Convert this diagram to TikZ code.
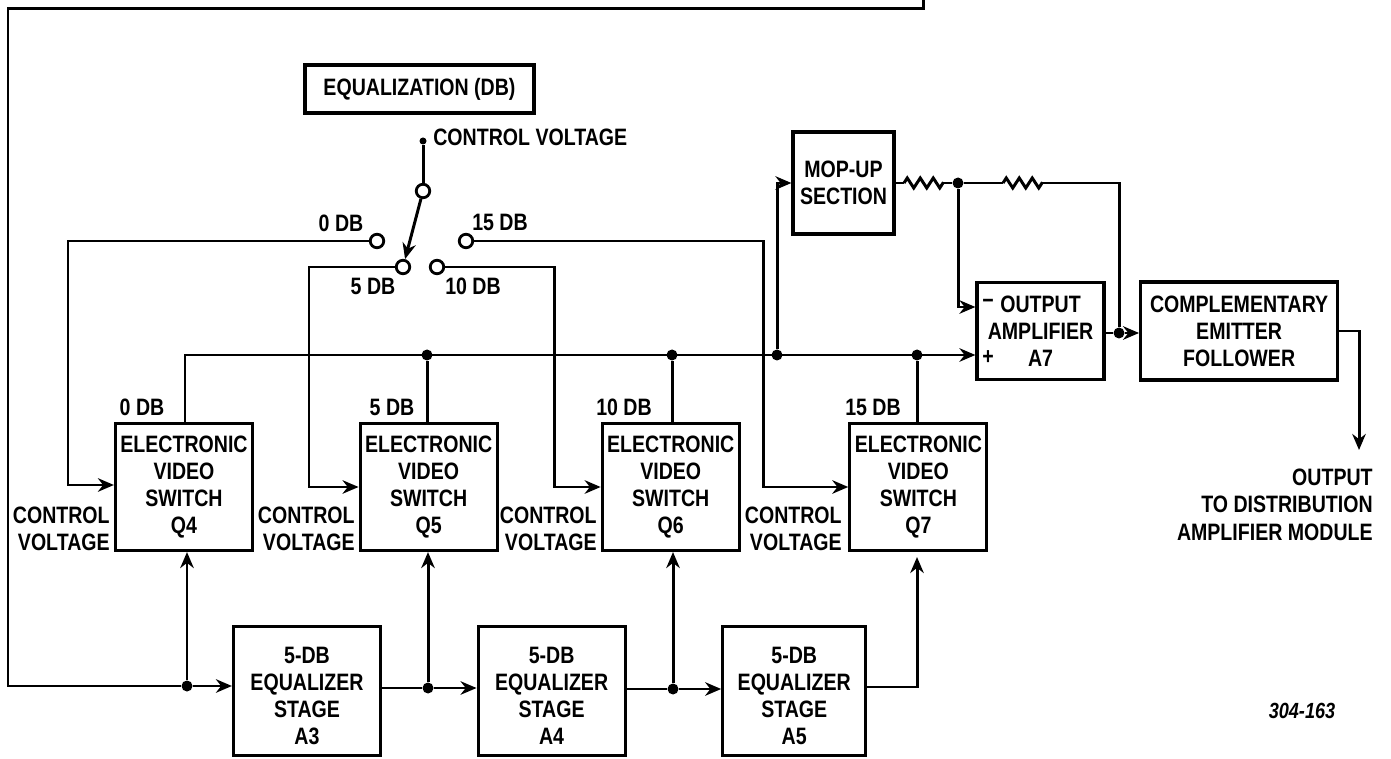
\documentclass[tikz,border=0pt]{standalone}
\usepackage{fontspec}
\setmainfont[FakeStretch=0.825]{Liberation Sans}
\usetikzlibrary{arrows.meta, positioning, calc, decorations.pathmorphing}
\newcommand{\eqtop}{\rule{0pt}{15pt}}
\tikzset{
    eqblock/.style={rectangle, draw=black, fill=white, line width=1.8pt, minimum width=#1, align=center, inner sep=0pt, font=\fontsize{13.5}{15.4}\selectfont\bfseries},
    eqwire/.style={draw=black, line width=1.7pt, line join=miter},
    eqarrow/.style={eqwire, -{Stealth[length=3.2mm, width=2.7mm]}},
    eqlabel/.style={font=\fontsize{13.5}{15.4}\selectfont\bfseries, align=center, inner sep=0pt},
    eqrlabel/.style={font=\fontsize{13.5}{15.4}\selectfont\bfseries, align=right, inner sep=0pt},
    eqdot/.style={circle, fill=black, inner sep=0pt, minimum size=0.22cm},
    eqcontact/.style={circle, draw=black, fill=white, line width=1.6pt, inner sep=0pt, minimum size=0.27cm},
    eqresistor/.style={eqwire, decorate, decoration={zigzag, segment length=0.26cm, amplitude=0.1cm}}
}
\begin{document}
\begin{tikzpicture}[x=0.02cm, y=-0.02cm]
\useasboundingbox (0,0) rectangle (1391,759);

% switches and equalizer stages
\node[eqblock=2.74cm, minimum height=2.54cm] (q4) at (184,487) {ELECTRONIC\\VIDEO\\SWITCH\\Q4};
\node[eqblock=2.74cm, minimum height=2.54cm, right=2.09cm of q4] (q5) {ELECTRONIC\\VIDEO\\SWITCH\\Q5};
\node[eqblock=2.74cm, minimum height=2.54cm, right=2.04cm of q5] (q6) {ELECTRONIC\\VIDEO\\SWITCH\\Q6};
\node[eqblock=2.74cm, minimum height=2.54cm, right=2.15cm of q6] (q7) {ELECTRONIC\\VIDEO\\SWITCH\\Q7};

\node[eqblock=2.94cm, minimum height=2.58cm] (a3) at (307,691) {\eqtop 5-DB\\EQUALIZER\\STAGE\\A3};
\node[eqblock=2.94cm, minimum height=2.58cm, right=1.89cm of a3] (a4) {\eqtop 5-DB\\EQUALIZER\\STAGE\\A4};
\node[eqblock=2.86cm, minimum height=2.58cm, right=1.89cm of a4] (a5) {\eqtop 5-DB\\EQUALIZER\\STAGE\\A5};

\node[eqblock=2.02cm, minimum height=2.04cm] (mop) at (843.5,183) {MOP-UP\\SECTION};
\node[eqblock=2.54cm, minimum height=1.94cm] (a7) at (1040.5,331) {OUTPUT\\AMPLIFIER\\A7};
\node[eqblock=3.94cm, minimum height=1.96cm, right=0.67cm of a7] (cef) {COMPLEMENTARY\\EMITTER\\FOLLOWER};
\node[eqblock=4.58cm, minimum height=0.96cm] (title) at (419.5,89) {EQUALIZATION (DB)};

% selector contacts
\node[eqdot, minimum size=0.14cm] (cv) at (423,141) {};
\node[eqcontact] (wiper) at (423,191) {};
\node[eqcontact] (c0) at (377,241) {};
\node[eqcontact] (c5) at (403,267) {};
\node[eqcontact] (c10) at (437,267) {};
\node[eqcontact] (c15) at (466,241) {};

% junctions
\node[eqdot] (b5) at (427,355) {};
\node[eqdot] (b10) at (672,355) {};
\node[eqdot] (bmop) at (777,355) {};
\node[eqdot] (b15) at (917,355) {};
\node[eqdot] (rj) at (958,183) {};
\node[eqdot] (oj) at (1119,333) {};
\node[eqdot] (j3) at (187,686) {};
\node[eqdot] (j4) at (428,688) {};
\node[eqdot] (j5) at (673,689) {};

% free ends
\coordinate (fbtop) at (923,0);
\coordinate (fbright) at (923,9);
\coordinate (fbleft) at (8,9);
\coordinate (r1a) at (904,183);
\coordinate (r1b) at (943,183);
\coordinate (r2a) at (1003,183);
\coordinate (r2b) at (1042,183);
\coordinate (outtip) at (1359,450);

% labels
\node[eqlabel, anchor=west] (cvtext) at (433,137) {CONTROL VOLTAGE};
\node[eqlabel] (l0) at (341,223) {0 DB};
\node[eqlabel] (l15) at (500,222) {15 DB};
\node[eqlabel] (l5) at (373,286) {5 DB};
\node[eqlabel] (l10) at (473,286) {10 DB};
\node[eqlabel] (q4db) at (142,407) {0 DB};
\node[eqlabel] (q5db) at (392,407) {5 DB};
\node[eqlabel] (q6db) at (624,407) {10 DB};
\node[eqlabel] (q7db) at (873,407) {15 DB};
\node[eqrlabel, anchor=east] (cv4) at (110,529) {CONTROL\\VOLTAGE};
\node[eqrlabel, anchor=east] (cv5) at (355,529) {CONTROL\\VOLTAGE};
\node[eqrlabel, anchor=east] (cv6) at (597,529) {CONTROL\\VOLTAGE};
\node[eqrlabel, anchor=east] (cv7) at (842,529) {CONTROL\\VOLTAGE};
\node[eqlabel] (minus) at (988,304) {−};
\node[eqlabel] (plus) at (988,358) {+};
\node[eqrlabel, anchor=north east] (outtext) at (1373,469) {OUTPUT\\TO DISTRIBUTION\\AMPLIFIER MODULE};
\node[eqlabel, font=\fontsize{12.5}{14}\selectfont\bfseries\itshape] (fig) at (1302,711) {304-163};

% selector
\draw[eqwire] (cv) -- (wiper);
\draw[eqarrow] (wiper) -- (c5);
\draw[eqarrow] (c0) -- (68,241) -- (68,485) -- (q4.west |- 0,485);
\draw[eqarrow] (c5) -- (309,267) -- (309,487) -- (q5.west |- 0,487);
\draw[eqarrow] (c10) -- (554,267) -- (554,487) -- (q6.west |- 0,487);
\draw[eqarrow] (c15) -- (763,241) -- (763,487) -- (q7.west |- 0,487);

% bus to amplifier
\draw[eqarrow] (q4.north -| 185,0) -- (185,355) -- (a7.west |- bmop);
\draw[eqwire] (b5) -- (b5 |- q5.north);
\draw[eqwire] (b10) -- (b10 |- q6.north);
\draw[eqwire] (b15) -- (b15 |- q7.north);
\draw[eqarrow] (bmop) -- (bmop |- mop) -- (mop.west);

% mop-up feedback
\draw[eqwire] (mop.east) -- (r1a);
\draw[eqresistor] (r1a) -- (r1b);
\draw[eqwire] (r1b) -- (rj);
\draw[eqwire] (rj) -- (r2a);
\draw[eqresistor] (r2a) -- (r2b);
\draw[eqwire] (r2b) -- (r2b -| oj) -- (oj);
\draw[eqarrow] (rj) -- (rj |- 0,307) -- (a7.west |- 0,307);
\draw[eqwire] (a7.east |- oj) -- (oj);
\draw[eqarrow] (oj) -- (cef.west |- oj);
\draw[eqarrow] (cef.east |- 0,331) -- (outtip |- 0,331) -- (outtip);

% feedback and equalizer chain
\draw[eqwire] (fbtop) -- (fbright) -- (fbleft) -- (fbleft |- j3) -- (j3);
\draw[eqarrow] (j3) -- (a3.west |- j3);
\draw[eqarrow] (j3) -- (j3 |- q4.south);
\draw[eqwire] (a3.east |- j4) -- (j4);
\draw[eqarrow] (j4) -- (a4.west |- j4);
\draw[eqarrow] (j4) -- (j4 |- q5.south);
\draw[eqwire] (a4.east |- j5) -- (j5);
\draw[eqarrow] (j5) -- (a5.west |- j5);
\draw[eqarrow] (j5) -- (j5 |- q6.south);
\draw[eqarrow] (a5.east |- 0,687) -- (917,687) -- (917,557);

\end{tikzpicture}
\end{document}
